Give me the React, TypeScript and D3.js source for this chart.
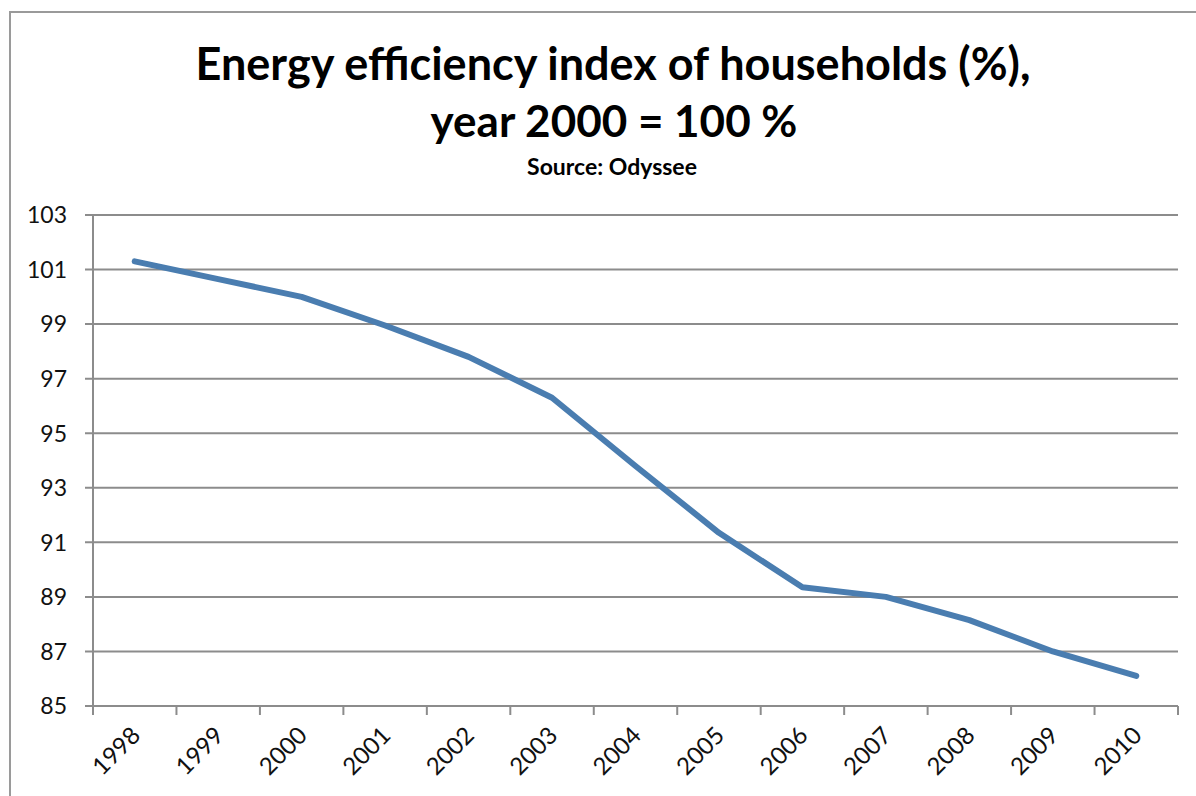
import React, { useEffect, useRef } from 'react';
import * as d3 from 'd3';

const years = ['1998', '1999', '2000', '2001', '2002', '2003', '2004', '2005', '2006', '2007', '2008', '2009', '2010'];
const efficiencyIndex = [101.3, 100.65, 100.0, 98.95, 97.8, 96.3, 93.8, 91.35, 89.35, 89.0, 88.15, 87.0, 86.1];
const yTicks = [85, 87, 89, 91, 93, 95, 97, 99, 101, 103];

const titleLines = ['Energy efficiency index of households (%),', 'year 2000 = 100 %'];
const sourceLabel = 'Source: Odyssee';

const width = 1196;
const height = 796;
const font = 'Lato, "Open Sans", sans-serif';

export default function App() {
  const ref = useRef<SVGSVGElement>(null);

  useEffect(() => {
    const svg = d3.select(ref.current);
    svg.selectAll('*').remove();

    const x = d3.scaleBand().domain(years).range([93, 1178]).padding(0);
    const y = d3.scaleLinear().domain([85, 103]).range([706, 215]);

    // outer frame
    svg
      .append('rect')
      .attr('x', 10)
      .attr('y', 12)
      .attr('width', width + 20)
      .attr('height', height + 20)
      .attr('fill', 'white')
      .attr('stroke', '#9a9a9a')
      .attr('stroke-width', 2);

    // title
    const title = svg
      .append('g')
      .attr('font-family', font)
      .attr('font-weight', 'bold')
      .attr('fill', '#000')
      .attr('text-anchor', 'middle');
    title.append('text').attr('x', 613).attr('y', 80).attr('font-size', 45).text(titleLines[0]);
    title.append('text').attr('x', 614).attr('y', 137).attr('font-size', 44).text(titleLines[1]);
    title.append('text').attr('x', 612).attr('y', 175).attr('font-size', 23).text(sourceLabel);

    // gridlines
    svg
      .append('g')
      .selectAll('line')
      .data(yTicks)
      .enter()
      .append('line')
      .attr('x1', 85)
      .attr('x2', 1178)
      .attr('y1', d => y(d))
      .attr('y2', d => y(d))
      .attr('stroke', '#8c8c8c')
      .attr('stroke-width', 2);

    // y axis line
    svg
      .append('line')
      .attr('x1', 93)
      .attr('x2', 93)
      .attr('y1', y(103))
      .attr('y2', y(85))
      .attr('stroke', '#8c8c8c')
      .attr('stroke-width', 2);

    // y labels
    svg
      .append('g')
      .selectAll('text')
      .data(yTicks)
      .enter()
      .append('text')
      .attr('x', 67)
      .attr('y', d => y(d))
      .attr('dy', '0.36em')
      .attr('text-anchor', 'end')
      .attr('font-family', font)
      .attr('font-size', 23)
      .attr('fill', '#111')
      .text(d => d);

    // x ticks at band edges
    const edges = years.map(d => x(d) as number).concat([x.range()[1]]);
    svg
      .append('g')
      .selectAll('line')
      .data(edges)
      .enter()
      .append('line')
      .attr('x1', d => d)
      .attr('x2', d => d)
      .attr('y1', y(85))
      .attr('y2', y(85) + 9)
      .attr('stroke', '#8c8c8c')
      .attr('stroke-width', 2);

    // x labels
    svg
      .append('g')
      .selectAll('text')
      .data(years)
      .enter()
      .append('text')
      .attr('transform', d => `translate(${(x(d) as number) + x.bandwidth() / 2 + 7},${y(85) + 31}) rotate(-45)`)
      .attr('text-anchor', 'end')
      .attr('font-family', font)
      .attr('font-size', 24)
      .attr('fill', '#111')
      .text(d => d);

    // line
    const line = d3
      .line<number>()
      .x((d, i) => (x(years[i]) as number) + x.bandwidth() / 2)
      .y(d => y(d));

    svg
      .append('path')
      .datum(efficiencyIndex)
      .attr('d', line)
      .attr('fill', 'none')
      .attr('stroke', '#4a7db0')
      .attr('stroke-width', 6)
      .attr('stroke-linecap', 'round')
      .attr('stroke-linejoin', 'round');
  }, []);

  return (
    <svg
      ref={ref}
      width={width}
      height={height}
      style={{ position: 'absolute', left: 0, top: 0, background: 'white' }}
    />
  );
}
